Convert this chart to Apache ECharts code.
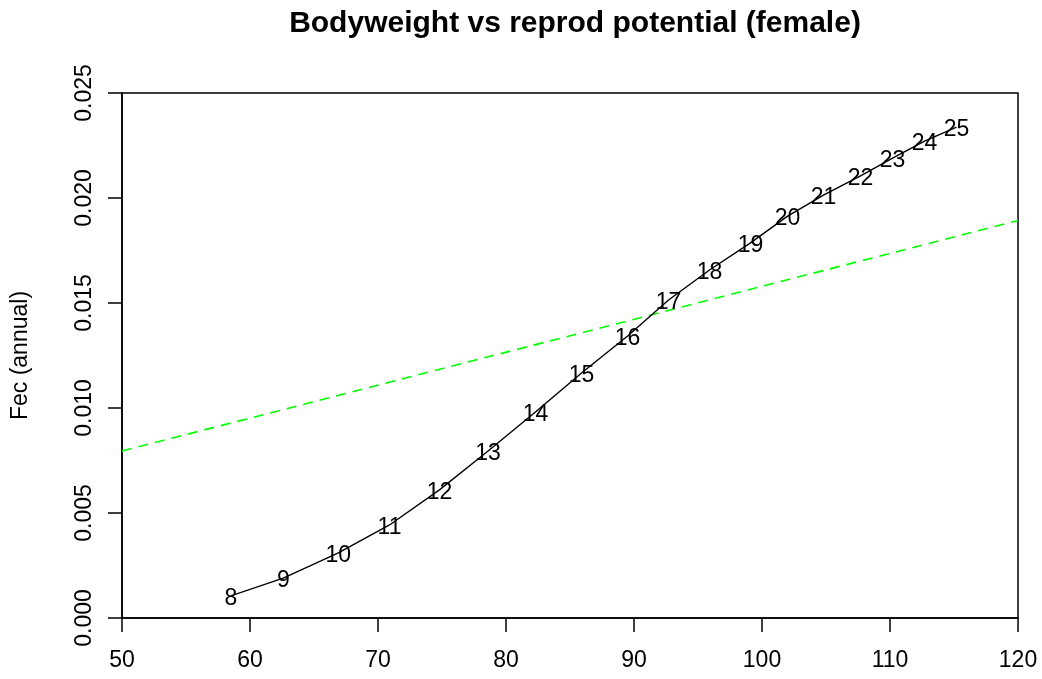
<!DOCTYPE html>
<html>
<head>
<meta charset="utf-8">
<title>Bodyweight vs reprod potential (female)</title>
<script src="https://cdn.jsdelivr.net/npm/echarts@6/dist/echarts.min.js"></script>
<style>
  html, body { margin: 0; padding: 0; background: #fff; }
  #main { width: 1042px; height: 679px; }
</style>
</head>
<body>
<div id="main"></div>
<script>
// ages (labels), bodyweight and annual fecundity
var ages = [8, 9, 10, 11, 12, 13, 14, 15, 16, 17, 18, 19, 20, 21, 22, 23, 24, 25];
var weight = [58.5, 62.6, 66.9, 70.9, 74.8, 78.6, 82.3, 85.9, 89.5, 92.7,
              95.9, 99.1, 102.0, 104.8, 107.7, 110.2, 112.7, 115.2];
var fec = [0.00105, 0.00190, 0.00310, 0.00443, 0.00610, 0.00795, 0.00981, 0.01167, 0.01343, 0.01514,
           0.01657, 0.01786, 0.01914, 0.02014, 0.02105, 0.02190, 0.02271, 0.02338];

// green dashed reference line (spans the whole x range)
var refX = [50, 120];
var refY = [0.00795, 0.01893];

var xTicks = [50, 60, 70, 80, 90, 100, 110, 120];
var yTicks = [0, 0.005, 0.010, 0.015, 0.020, 0.025];

var FONT = '"Liberation Sans", Arial, sans-serif';

var curve = weight.map(function (w, i) { return [w, fec[i]]; });
var labelled = weight.map(function (w, i) { return [w, fec[i], ages[i]]; });
var refLine = refX.map(function (x, i) { return [x, refY[i]]; });

var myChart = echarts.init(document.getElementById('main'));

var option = {
    animation: false,
    backgroundColor: '#fff',
    title: {
        text: 'Bodyweight vs reprod potential (female)',
        left: 570,
        textAlign: 'center',
        top: 4,
        textStyle: { fontFamily: FONT, fontSize: 30, fontWeight: 'bold', color: '#000' }
    },
    grid: {
        left: 122, right: 24, top: 93, bottom: 61,
        show: true, borderColor: '#000', borderWidth: 1.5, backgroundColor: 'transparent'
    },
    xAxis: {
        type: 'value',
        min: xTicks[0], max: xTicks[xTicks.length - 1], interval: 10,
        splitLine: { show: false },
        axisLine: { lineStyle: { color: '#000', width: 1.5 } },
        axisTick: { length: 14, lineStyle: { color: '#000', width: 1.5 } },
        axisLabel: { margin: 31, fontFamily: FONT, fontSize: 23, color: '#000' }
    },
    yAxis: {
        type: 'value',
        min: yTicks[0], max: yTicks[yTicks.length - 1], interval: 0.005,
        name: 'Fec (annual)',
        nameLocation: 'middle',
        nameRotate: 90,
        nameGap: 90,
        nameTextStyle: { fontFamily: FONT, fontSize: 23, color: '#000' },
        splitLine: { show: false },
        axisLine: { lineStyle: { color: '#000', width: 1.5 } },
        axisTick: { length: 14, lineStyle: { color: '#000', width: 1.5 } },
        axisLabel: {
            rotate: 90, margin: 26, fontFamily: FONT, fontSize: 23, color: '#000',
            formatter: function (v) { return v.toFixed(3); }
        }
    },
    series: [
        {
            type: 'line',
            data: refLine,
            symbol: 'none',
            lineStyle: { color: '#00ff00', width: 1.6, type: [10, 7] },
            z: 1
        },
        {
            type: 'line',
            data: curve,
            symbol: 'none',
            smooth: false,
            lineStyle: { color: '#000', width: 1.4 },
            z: 2
        },
        {
            type: 'scatter',
            data: labelled,
            symbolSize: 0,
            itemStyle: { color: '#000' },
            label: {
                show: true,
                position: 'inside',
                offset: [0, 3],
                formatter: function (p) { return p.value[2]; },
                fontFamily: FONT, fontSize: 23, color: '#000',
                textBorderWidth: 0, opacity: 1
            },
            z: 3
        }
    ]
};

myChart.setOption(option);
</script>
</body>
</html>
